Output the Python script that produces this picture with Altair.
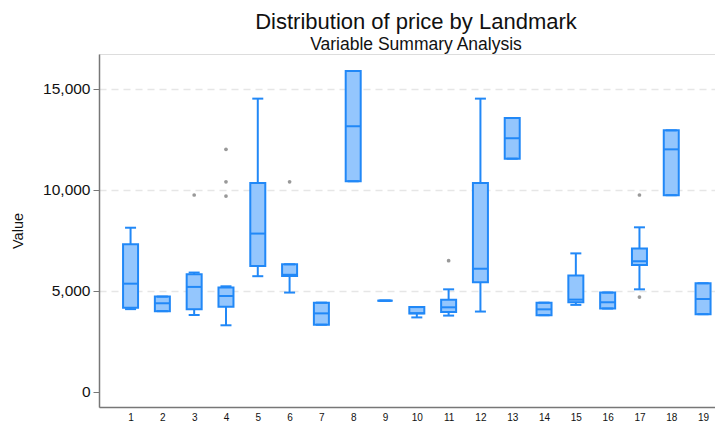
import altair as alt
import pandas as pd

landmarks = list(range(1, 20))
lower = [4100, 4000, 3810, 3300, 5730, 4920, 3330, 10430, 4520, 3690, 3780, 3980, 11550, 3800, 4310, 4130, 5080, 9740, 3850]
q1 = [4170, 4000, 4090, 4220, 6240, 5740, 3330, 10430, 4520, 3880, 3960, 5430, 11550, 3800, 4440, 4130, 6290, 9740, 3850]
median = [5360, 4390, 5200, 4750, 7840, 5800, 3890, 13150, 4520, 3900, 4190, 6100, 12560, 4090, 4570, 4440, 6470, 12010, 4600]
q3 = [7310, 4720, 5830, 5170, 10350, 6320, 4420, 15890, 4520, 4200, 4570, 10350, 13560, 4420, 5760, 4920, 7100, 12950, 5380]
upper = [8130, 4720, 5910, 5230, 14520, 6320, 4420, 15890, 4520, 4200, 5080, 14520, 13560, 4420, 6860, 4920, 8150, 12950, 5380]

outlier_landmark = [3, 4, 4, 4, 6, 11, 17, 17]
outlier_value = [9750, 12010, 10400, 9700, 10400, 6500, 9750, 4700]

FILL = "#94c6fd"
STROKE = "#2188f7"
FONT = "Liberation Sans"

boxes = pd.DataFrame({"landmark": landmarks, "lower": lower, "q1": q1,
                      "median": median, "q3": q3, "upper": upper})
outs = pd.DataFrame({"landmark": outlier_landmark, "value": outlier_value})

x_scale = alt.Scale(domain=[0.165, 19.218], nice=False, zero=False)
y_scale = alt.Scale(domain=[-745, 16730], nice=False, zero=False)

x_axis = alt.Axis(values=landmarks, format="d", ticks=False, grid=False, title=None,
                  labelFontSize=10, labelFont=FONT, labelColor="#111",
                  domainColor="#777", domainWidth=1.5, labelPadding=5,
                  labelFlush=False, labelOverlap=False, labelBound=False)
y_axis = alt.Axis(values=[0, 5000, 10000, 15000], format=",d", title="Value",
                  labelFontSize=15.5, labelFont=FONT, labelColor="#111",
                  titleFont=FONT, titleFontSize=14.5, titleFontWeight="normal", titleColor="#111",
                  tickSize=6, tickColor="#777", domainColor="#777", domainWidth=1.5,
                  labelPadding=3, titlePadding=17,
                  gridColor="#e6e6e6", gridDash=[7, 5], gridWidth=1.5,
                  gridOpacity={"condition": {"test": "datum.value == 0", "value": 0}, "value": 1})

base = alt.Chart(boxes)
X = alt.X("landmark:Q", scale=x_scale, axis=x_axis)
Y_AX = alt.Y("lower:Q", scale=y_scale, axis=y_axis)

lw_rule = base.mark_rule(color=STROKE, strokeWidth=2).encode(
    x=X, y=Y_AX, y2="q1:Q")
uw_rule = base.mark_rule(color=STROKE, strokeWidth=2).encode(
    x=X, y=alt.Y("q3:Q", scale=y_scale, axis=y_axis), y2="upper:Q")
box = base.mark_bar(size=15, fill=FILL, stroke=STROKE, strokeWidth=2).encode(
    x=X, y=alt.Y("q1:Q", scale=y_scale, axis=y_axis), y2="q3:Q")
med = base.mark_tick(orient="horizontal", size=15, thickness=2, color=STROKE, opacity=1).encode(
    x=X, y=alt.Y("median:Q", scale=y_scale, axis=y_axis))
cap_lo = base.mark_tick(orient="horizontal", size=11, thickness=2, color=STROKE, opacity=1).encode(
    x=X, y=alt.Y("lower:Q", scale=y_scale, axis=y_axis))
cap_hi = base.mark_tick(orient="horizontal", size=11, thickness=2, color=STROKE, opacity=1).encode(
    x=X, y=alt.Y("upper:Q", scale=y_scale, axis=y_axis))
pts = alt.Chart(outs).mark_circle(size=14, color="#999999", opacity=1).encode(
    x=X, y=alt.Y("value:Q", scale=y_scale, axis=y_axis))

chart = alt.layer(lw_rule, uw_rule, box, med, cap_lo, cap_hi, pts).properties(
    width=616, height=353,
    padding={"top": 2, "left": 2, "right": 0, "bottom": 3},
    title=alt.TitleParams("Distribution of price by Landmark",
                          subtitle="Variable Summary Analysis",
                          font=FONT, fontSize=22, fontWeight="normal", color="#111",
                          subtitleFont=FONT, subtitleFontSize=17.5, subtitleColor="#111",
                          anchor="middle", offset=0, subtitlePadding=2, dx=9),
).configure_view(stroke=None).configure(background="white")

chart.save("out.html", embed_options={"renderer": "svg", "actions": False})
